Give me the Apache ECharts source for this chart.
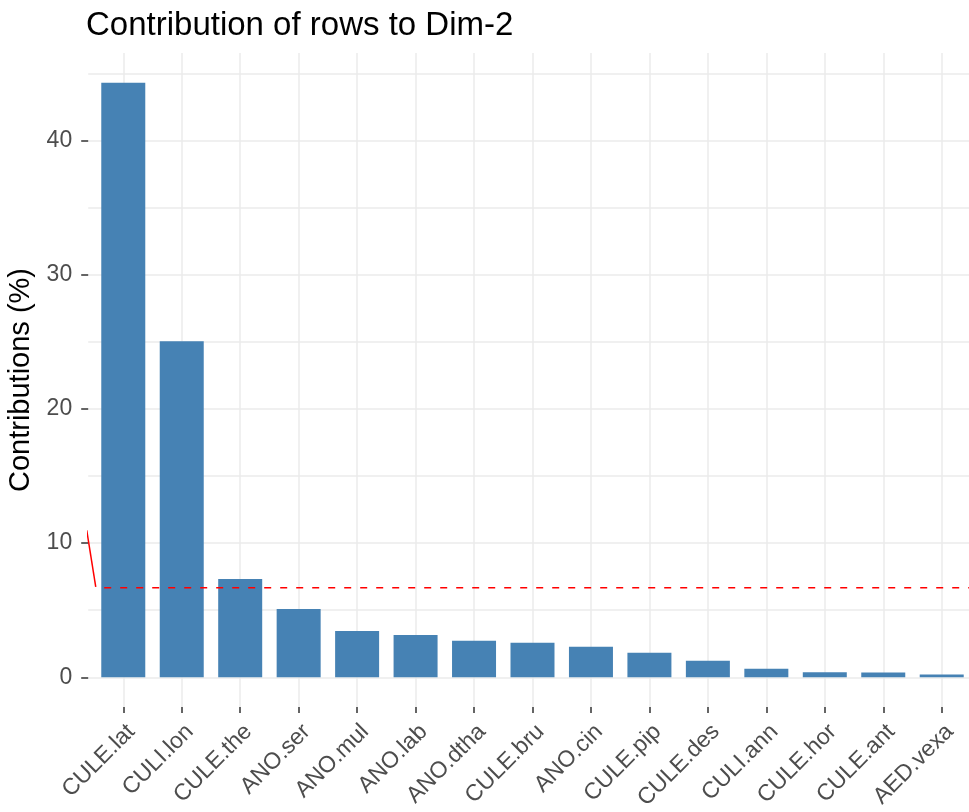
<!DOCTYPE html>
<html>
<head>
<meta charset="utf-8">
<script src="https://cdn.jsdelivr.net/npm/echarts@6/dist/echarts.min.js"></script>
<style>
  html, body { margin: 0; padding: 0; background: #ffffff; }
  #chart { width: 969px; height: 812px; }
</style>
</head>
<body>
<div id="chart"></div>
<script>
// Row contributions (%) to the second dimension, sorted descending
const categories = ['CULE.lat', 'CULI.lon', 'CULE.the', 'ANO.ser', 'ANO.mul', 'ANO.lab', 'ANO.dtha',
  'CULE.bru', 'ANO.cin', 'CULE.pip', 'CULE.des', 'CULI.ann', 'CULE.hor', 'CULE.ant', 'AED.vexa'];
const contributions = [44.3, 25.03, 7.32, 5.08, 3.45, 3.15, 2.73, 2.58, 2.28, 1.83, 1.24, 0.64, 0.37, 0.36, 0.2];

// Expected average contribution (reference line)
const expectedContribution = 6.67;
// Short slanted red stroke at the start of the reference line
const refStroke = [[0.375, 10.95], [0.529, 6.73]];

// Axis ticks and grid lines
const yTickLabels = [0, 10, 20, 30, 40];
const yGridValues = [0, 5, 10, 15, 20, 25, 30, 35, 40, 45];

const positions = categories.map((_, i) => i + 1);
const barData = contributions.map((v, i) => [positions[i], v]);

// Panel geometry: the panel runs past the right edge of the canvas
const panelLeft = 88.2;
const panelWidth = 969 - panelLeft;
const unitPx = 58.46;

const yMax = Math.max(...contributions);
const yLo = -0.05 * yMax;
const yHi = 1.05 * yMax;
const xLo = 0.4;
const xHi = xLo + panelWidth / unitPx;

const font = 'Liberation Sans, Arial, Helvetica, sans-serif';
const gridLine = { color: '#EBEBEB', width: 1.5 };

const chart = echarts.init(document.getElementById('chart'), null, { renderer: 'canvas' });
chart.setOption({
  animation: false,
  backgroundColor: '#ffffff',
  title: {
    text: 'Contribution of rows to Dim-2',
    left: 81,
    top: 4,
    textStyle: { fontFamily: font, fontSize: 33, fontWeight: 'normal', color: '#000000' }
  },
  grid: {
    left: panelLeft, top: 53, width: panelWidth, height: 654,
    containLabel: false, outerBoundsMode: 'none'
  },
  xAxis: {
    type: 'value',
    min: xLo,
    max: xHi,
    axisLine: { show: false, onZero: false },
    axisTick: {
      show: true, length: 6, customValues: positions,
      lineStyle: { color: '#333333', width: 1.5 }
    },
    splitLine: { show: true, lineStyle: gridLine },
    axisLabel: {
      customValues: positions,
      formatter: (v) => categories[Math.round(v) - 1] || '',
      rotate: 45,
      align: 'right',
      verticalAlign: 'top',
      margin: 13,
      fontFamily: font,
      fontSize: 23,
      color: '#4D4D4D'
    }
  },
  yAxis: [
    {
      type: 'value',
      min: yLo,
      max: yHi,
      name: 'Contributions (%)',
      nameLocation: 'middle',
      nameGap: 48,
      nameTextStyle: { fontFamily: font, fontSize: 29, color: '#000000' },
      axisLine: { show: false },
      axisTick: {
        show: true, length: 7, customValues: yTickLabels,
        lineStyle: { color: '#333333', width: 1.5 }
      },
      axisLabel: {
        customValues: yTickLabels,
        margin: 16,
        fontFamily: font,
        fontSize: 23,
        color: '#4D4D4D'
      },
      splitLine: { show: false }
    },
    {
      type: 'value',
      min: yLo,
      max: yHi,
      position: 'left',
      axisLine: { show: false },
      axisTick: { show: false, customValues: yGridValues },
      axisLabel: { show: false },
      splitLine: { show: true, lineStyle: gridLine }
    }
  ],
  series: [
    {
      type: 'bar',
      yAxisIndex: 0,
      data: barData,
      barWidth: 44,
      itemStyle: { color: '#4682B4' },
      z: 2
    },
    {
      type: 'line',
      yAxisIndex: 0,
      data: [[xLo + 16 / unitPx, expectedContribution], [xHi, expectedContribution]],
      symbol: 'none',
      clip: false,
      lineStyle: { color: '#FF0000', width: 1.6, type: [7, 9] },
      z: 3
    },
    {
      type: 'line',
      yAxisIndex: 0,
      data: refStroke,
      symbol: 'none',
      clip: false,
      lineStyle: { color: '#FF0000', width: 1.5 },
      z: 3
    }
  ]
});
</script>
</body>
</html>
